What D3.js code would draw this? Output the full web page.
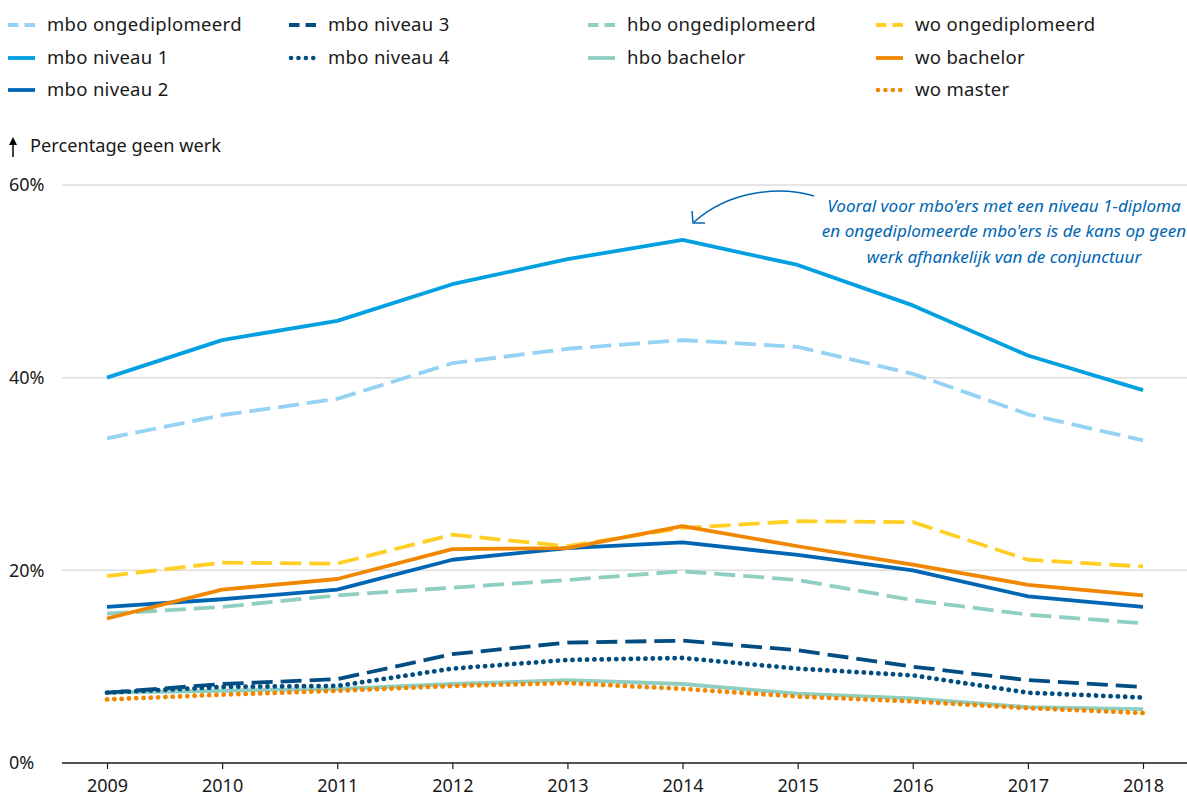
<!DOCTYPE html>
<html>
<head>
<meta charset="utf-8">
<script src="https://cdn.jsdelivr.net/npm/d3@7"></script>
<style>
  body { margin: 0; background: #fff; }
  svg { font-family: "Noto Sans", sans-serif; }
</style>
</head>
<body>
<svg id="chart" width="1187" height="799"></svg>
<script>
var years = [2009, 2010, 2011, 2012, 2013, 2014, 2015, 2016, 2017, 2018];
var yTicks = [0, 20, 40, 60];

var mboOngediplomeerd = [33.7, 36.1, 37.8, 41.5, 43.0, 43.9, 43.2, 40.4, 36.2, 33.5];
var mboNiveau1 = [40.0, 43.9, 45.9, 49.7, 52.3, 54.3, 51.7, 47.5, 42.3, 38.7];
var mboNiveau2 = [16.2, 17.0, 18.0, 21.1, 22.3, 22.9, 21.6, 20.0, 17.3, 16.2];
var mboNiveau3 = [7.3, 8.2, 8.7, 11.3, 12.5, 12.7, 11.7, 10.0, 8.6, 7.9];
var mboNiveau4 = [7.3, 7.9, 8.0, 9.8, 10.7, 10.9, 9.8, 9.1, 7.3, 6.8];
var hboOngediplomeerd = [15.5, 16.2, 17.4, 18.2, 19.0, 19.9, 19.0, 16.9, 15.4, 14.5];
var hboBachelor = [7.3, 7.5, 7.7, 8.2, 8.6, 8.2, 7.2, 6.7, 5.8, 5.6];
var woOngediplomeerd = [19.4, 20.8, 20.7, 23.7, 22.5, 24.4, 25.1, 25.0, 21.1, 20.4];
var woBachelor = [15.0, 18.0, 19.1, 22.2, 22.3, 24.6, 22.5, 20.6, 18.5, 17.4];
var woMaster = [6.6, 7.1, 7.5, 8.0, 8.3, 7.7, 6.9, 6.4, 5.7, 5.2];

// dash: "solid", "dash", "dot"
var series = [
  {name: "mbo ongediplomeerd", values: mboOngediplomeerd, color: "#95d3f4", dash: "dash", col: 0, row: 0},
  {name: "mbo niveau 1", values: mboNiveau1, color: "#00a0e1", dash: "solid", col: 0, row: 1},
  {name: "mbo niveau 2", values: mboNiveau2, color: "#0066b3", dash: "solid", col: 0, row: 2},
  {name: "mbo niveau 3", values: mboNiveau3, color: "#014d82", dash: "dash", col: 1, row: 0},
  {name: "mbo niveau 4", values: mboNiveau4, color: "#014d82", dash: "dot", col: 1, row: 1},
  {name: "hbo ongediplomeerd", values: hboOngediplomeerd, color: "#8fcfc1", dash: "dash", col: 2, row: 0},
  {name: "hbo bachelor", values: hboBachelor, color: "#8fcfc1", dash: "solid", col: 2, row: 1},
  {name: "wo ongediplomeerd", values: woOngediplomeerd, color: "#ffcf26", dash: "dash", col: 3, row: 0},
  {name: "wo bachelor", values: woBachelor, color: "#f18700", dash: "solid", col: 3, row: 1},
  {name: "wo master", values: woMaster, color: "#f18700", dash: "dot", col: 3, row: 2}
];

// draw order (back to front)
var drawOrder = ["hbo bachelor", "wo master", "mbo niveau 4", "mbo niveau 3", "hbo ongediplomeerd",
  "mbo niveau 2", "wo ongediplomeerd", "wo bachelor", "mbo ongediplomeerd", "mbo niveau 1"];

var svg = d3.select("#chart");

var x = d3.scaleLinear().domain([2009, 2018]).range([107, 1143]);
var y = d3.scaleLinear().domain([0, 60]).range([763, 185]);

function dashArray(d) {
  if (d == "dash") return "21 8";
  if (d == "dot") return "0.1 7.2";
  return null;
}

// gridlines
svg.append("g")
  .selectAll("line")
  .data(yTicks.filter(function(t) { return t > 0; }))
  .join("line")
  .attr("x1", 62).attr("x2", 1187)
  .attr("y1", function(d) { return y(d); })
  .attr("y2", function(d) { return y(d); })
  .attr("stroke", "#dedede")
  .attr("stroke-width", 1.5);

// y tick labels
svg.append("g")
  .selectAll("text")
  .data(yTicks)
  .join("text")
  .attr("x", 9)
  .attr("y", function(d) { return y(d); })
  .attr("dy", "0.35em")
  .attr("font-size", 18)
  .attr("fill", "#1a1a1a")
  .text(function(d) { return d + "%"; });

// x axis
var xAxis = d3.axisBottom(x)
  .tickValues(years)
  .tickFormat(d3.format("d"))
  .tickSize(6)
  .tickPadding(10);

var gx = svg.append("g")
  .attr("transform", "translate(0," + y(0) + ")")
  .call(xAxis);
gx.select(".domain").remove();
gx.selectAll(".tick line").attr("stroke", "#1a1a1a").attr("stroke-width", 1.2);
gx.selectAll(".tick text")
  .attr("font-size", 18)
  .attr("font-family", "Noto Sans, sans-serif")
  .attr("fill", "#1a1a1a");
svg.append("line")
  .attr("x1", 62).attr("x2", 1187)
  .attr("y1", y(0)).attr("y2", y(0))
  .attr("stroke", "#1a1a1a")
  .attr("stroke-width", 1.5);

// lines
var line = d3.line()
  .x(function(d, i) { return x(years[i]); })
  .y(function(d) { return y(d); });

var byName = {};
series.forEach(function(s) { byName[s.name] = s; });

svg.append("g")
  .selectAll("path")
  .data(drawOrder.map(function(n) { return byName[n]; }))
  .join("path")
  .attr("d", function(s) { return line(s.values); })
  .attr("fill", "none")
  .attr("stroke", function(s) { return s.color; })
  .attr("stroke-width", function(s) { return s.dash == "dot" ? 4.8 : 3.8; })
  .attr("stroke-linecap", function(s) { return s.dash == "dot" ? "round" : "butt"; })
  .attr("stroke-linejoin", "round")
  .attr("stroke-dasharray", function(s) { return dashArray(s.dash); });

// legend
var colX = [8, 289, 588, 876];
var rowY = [25, 58, 90];

var leg = svg.append("g")
  .selectAll("g")
  .data(series)
  .join("g")
  .attr("transform", function(s) { return "translate(" + colX[s.col] + "," + rowY[s.row] + ")"; });

leg.append("line")
  .attr("x1", function(s) { return s.dash == "dot" ? 2 : 0; })
  .attr("x2", function(s) { return s.dash == "dot" ? 26 : 27; })
  .attr("y1", 0).attr("y2", 0)
  .attr("stroke", function(s) { return s.color; })
  .attr("stroke-width", function(s) { return s.dash == "dot" ? 4.5 : 3.8; })
  .attr("stroke-linecap", function(s) { return s.dash == "dot" ? "round" : "butt"; })
  .attr("stroke-dasharray", function(s) {
    if (s.dash == "dash") return "10.5 6";
    if (s.dash == "dot") return "0.1 7.3";
    return null;
  });

leg.append("text")
  .attr("x", 39)
  .attr("y", 0)
  .attr("dy", "0.35em")
  .attr("font-size", 18.5)
  .attr("letter-spacing", 0.3)
  .attr("fill", "#1a1a1a")
  .text(function(s) { return s.name; });

// y axis title with arrow
svg.append("line")
  .attr("x1", 13).attr("x2", 13)
  .attr("y1", 157).attr("y2", 140)
  .attr("stroke", "#000").attr("stroke-width", 1.5);
svg.append("path")
  .attr("d", "M9,145 L13,137 L17,145 Z")
  .attr("fill", "#000");
svg.append("text")
  .attr("x", 30).attr("y", 146)
  .attr("dy", "0.35em")
  .attr("font-size", 18.2)
  .attr("fill", "#1a1a1a")
  .text("Percentage geen werk");

// annotation
var note = ["Vooral voor mbo'ers met een niveau 1-diploma",
  "en ongediplomeerde mbo'ers is de kans op geen",
  "werk afhankelijk van de conjunctuur"];

svg.append("g")
  .selectAll("text")
  .data(note)
  .join("text")
  .attr("x", 1004)
  .attr("y", function(d, i) { return 206 + i * 25.5; })
  .attr("dy", "0.35em")
  .attr("text-anchor", "middle")
  .attr("font-size", 17.1)
  .attr("font-style", "italic")
  .attr("fill", "#0066b3")
  .text(function(d) { return d; });

svg.append("path")
  .attr("d", "M814,196 C780,186 730,190 694,222")
  .attr("fill", "none")
  .attr("stroke", "#0066b3")
  .attr("stroke-width", 1.5);
svg.append("path")
  .attr("d", "M692,211 L693,223 L705,223")
  .attr("fill", "none")
  .attr("stroke", "#0066b3")
  .attr("stroke-width", 1.5);
</script>
</body>
</html>
